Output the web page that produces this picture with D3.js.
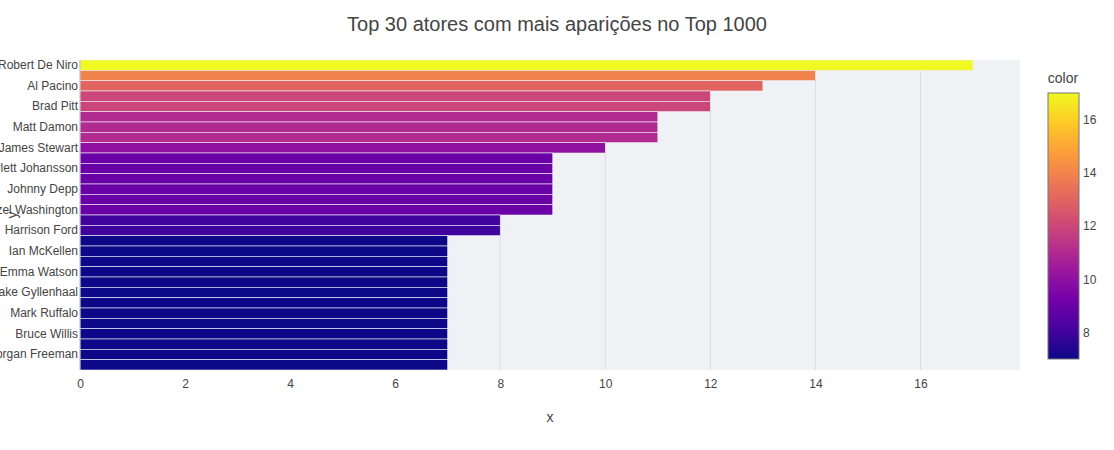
<!DOCTYPE html>
<html>
<head>
<meta charset="utf-8">
<script src="https://cdn.jsdelivr.net/npm/d3@7"></script>
<style>
	body { margin: 0; background: #fff; }
	svg text { font-family: "Liberation Sans", Arial, sans-serif; fill: #444; }
</style>
</head>
<body>
<div id="chart"></div>
<script>
// atores em ordem decrescente (só metade aparece no eixo, como no plotly)
const actors = [
	'Robert De Niro', 'Tom Hanks', 'Al Pacino', 'Clint Eastwood', 'Brad Pitt',
	'Leonardo DiCaprio', 'Matt Damon', 'Christian Bale', 'James Stewart', 'Michael Caine',
	'Scarlett Johansson', 'Ethan Hawke', 'Johnny Depp', 'Tom Hardy', 'Denzel Washington',
	'Humphrey Bogart', 'Harrison Ford', 'Aamir Khan', 'Ian McKellen', 'Toshirô Mifune',
	'Emma Watson', 'Kevin Spacey', 'Jake Gyllenhaal', 'Charles Chaplin', 'Mark Ruffalo',
	'Daniel Radcliffe', 'Bruce Willis', 'Rupert Grint', 'Morgan Freeman', 'Samuel L. Jackson'
];
const counts = [17, 14, 13, 12, 12, 11, 11, 11, 10, 9, 9, 9, 9, 9, 9, 8, 8, 7, 7, 7, 7, 7, 7, 7, 7, 7, 7, 7, 7, 7];
const xTicks = [0, 2, 4, 6, 8, 10, 12, 14, 16];
const colorTicks = [8, 10, 12, 14, 16];
const plasma = ['#0d0887', '#46039f', '#7201a8', '#9c179e', '#bd3786', '#d8576b', '#ed7953', '#fb9f3a', '#fdca26', '#f0f921'];

const W = 1114, H = 450;
const MARGIN = { TOP: 60, LEFT: 80, RIGHT: 94, BOTTOM: 80 };
const PW = W - MARGIN.LEFT - MARGIN.RIGHT;
const PH = H - MARGIN.TOP - MARGIN.BOTTOM;

var svg = d3.select('#chart').append('svg')
	.attr('width', W)
	.attr('height', H);

var g = svg.append('g')
	.attr('transform', 'translate(' + MARGIN.LEFT + ',' + MARGIN.TOP + ')');

var x = d3.scaleLinear().domain([0, d3.max(counts) / 0.95]).range([0, PW]);
var y = d3.scaleBand().domain(actors).range([0, PH]).padding(0);
var cmin = d3.min(counts), cmax = d3.max(counts);
var interp = d3.piecewise(d3.interpolateRgb, plasma);
var color = function (v) { return interp((v - cmin) / (cmax - cmin)); };

g.append('rect')
	.attr('width', PW)
	.attr('height', PH)
	.attr('fill', '#f0f1f5');

// grade vertical
g.selectAll('.grid').data(xTicks.slice(1)).enter()
	.append('line')
	.attr('x1', function (d) { return x(d); })
	.attr('x2', function (d) { return x(d); })
	.attr('y1', 0)
	.attr('y2', PH)
	.style('stroke', '#dcdde3')
	.style('stroke-width', 1);

g.selectAll('.bar').data(actors).enter()
	.append('rect')
	.attr('x', 0)
	.attr('y', function (d) { return y(d); })
	.attr('width', function (d, i) { return x(counts[i]); })
	.attr('height', y.bandwidth())
	.attr('fill', function (d, i) { return color(counts[i]); })
	.style('stroke', '#f0f1f5')
	.style('stroke-width', 0.6);

g.append('line')
	.attr('x1', 0).attr('x2', 0)
	.attr('y1', 0).attr('y2', PH)
	.style('stroke', '#b8b9c2')
	.style('stroke-width', 1);

var xAxis = d3.axisBottom(x).tickValues(xTicks).tickSize(0).tickPadding(9);
var xg = g.append('g')
	.attr('transform', 'translate(0,' + PH + ')')
	.call(xAxis);
xg.select('.domain').remove();
xg.selectAll('text').style('font-size', '12px').attr('fill', '#444');

var yAxis = d3.axisLeft(y)
	.tickValues(actors.filter(function (d, i) { return i % 2 === 0; }))
	.tickSize(0).tickPadding(2);
var yg = g.append('g').call(yAxis);
yg.select('.domain').remove();
yg.selectAll('text').style('font-size', '12px').attr('fill', '#444');

// títulos
svg.append('text')
	.attr('x', W / 2)
	.attr('y', 31)
	.attr('text-anchor', 'middle')
	.style('font-size', '20px')
	.text('Top 30 atores com mais aparições no Top 1000');

svg.append('text')
	.attr('x', MARGIN.LEFT + PW / 2)
	.attr('y', 422)
	.attr('text-anchor', 'middle')
	.style('font-size', '14px')
	.text('x');

svg.insert('text', 'g')
	.attr('transform', 'translate(17,' + (MARGIN.TOP + PH / 2) + ') rotate(-90)')
	.attr('text-anchor', 'middle')
	.style('font-size', '14px')
	.text('y');

// barra de cores
var CB = { X: 1048, Y: 93, W: 31, H: 266 };
var cy = d3.scaleLinear().domain([cmin, cmax]).range([CB.Y + CB.H, CB.Y]);
var defs = svg.append('defs');
var grad = defs.append('linearGradient')
	.attr('id', 'cbgrad')
	.attr('x1', 0).attr('y1', 1).attr('x2', 0).attr('y2', 0);
grad.selectAll('stop').data(plasma).enter()
	.append('stop')
	.attr('offset', function (d, i) { return i / (plasma.length - 1); })
	.attr('stop-color', function (d) { return d; });

svg.append('rect')
	.attr('x', CB.X)
	.attr('y', CB.Y)
	.attr('width', CB.W)
	.attr('height', CB.H)
	.attr('fill', 'url(#cbgrad)')
	.style('stroke', '#777')
	.style('stroke-width', 1);

var cAxis = d3.axisRight(cy).tickValues(colorTicks).tickSize(0).tickPadding(4);
var cg = svg.append('g')
	.attr('transform', 'translate(' + (CB.X + CB.W) + ',0)')
	.call(cAxis);
cg.select('.domain').remove();
cg.selectAll('text').style('font-size', '12px').attr('fill', '#444');

svg.append('text')
	.attr('x', 1063)
	.attr('y', 83)
	.attr('text-anchor', 'middle')
	.style('font-size', '14px')
	.text('color');
</script>
</body>
</html>
